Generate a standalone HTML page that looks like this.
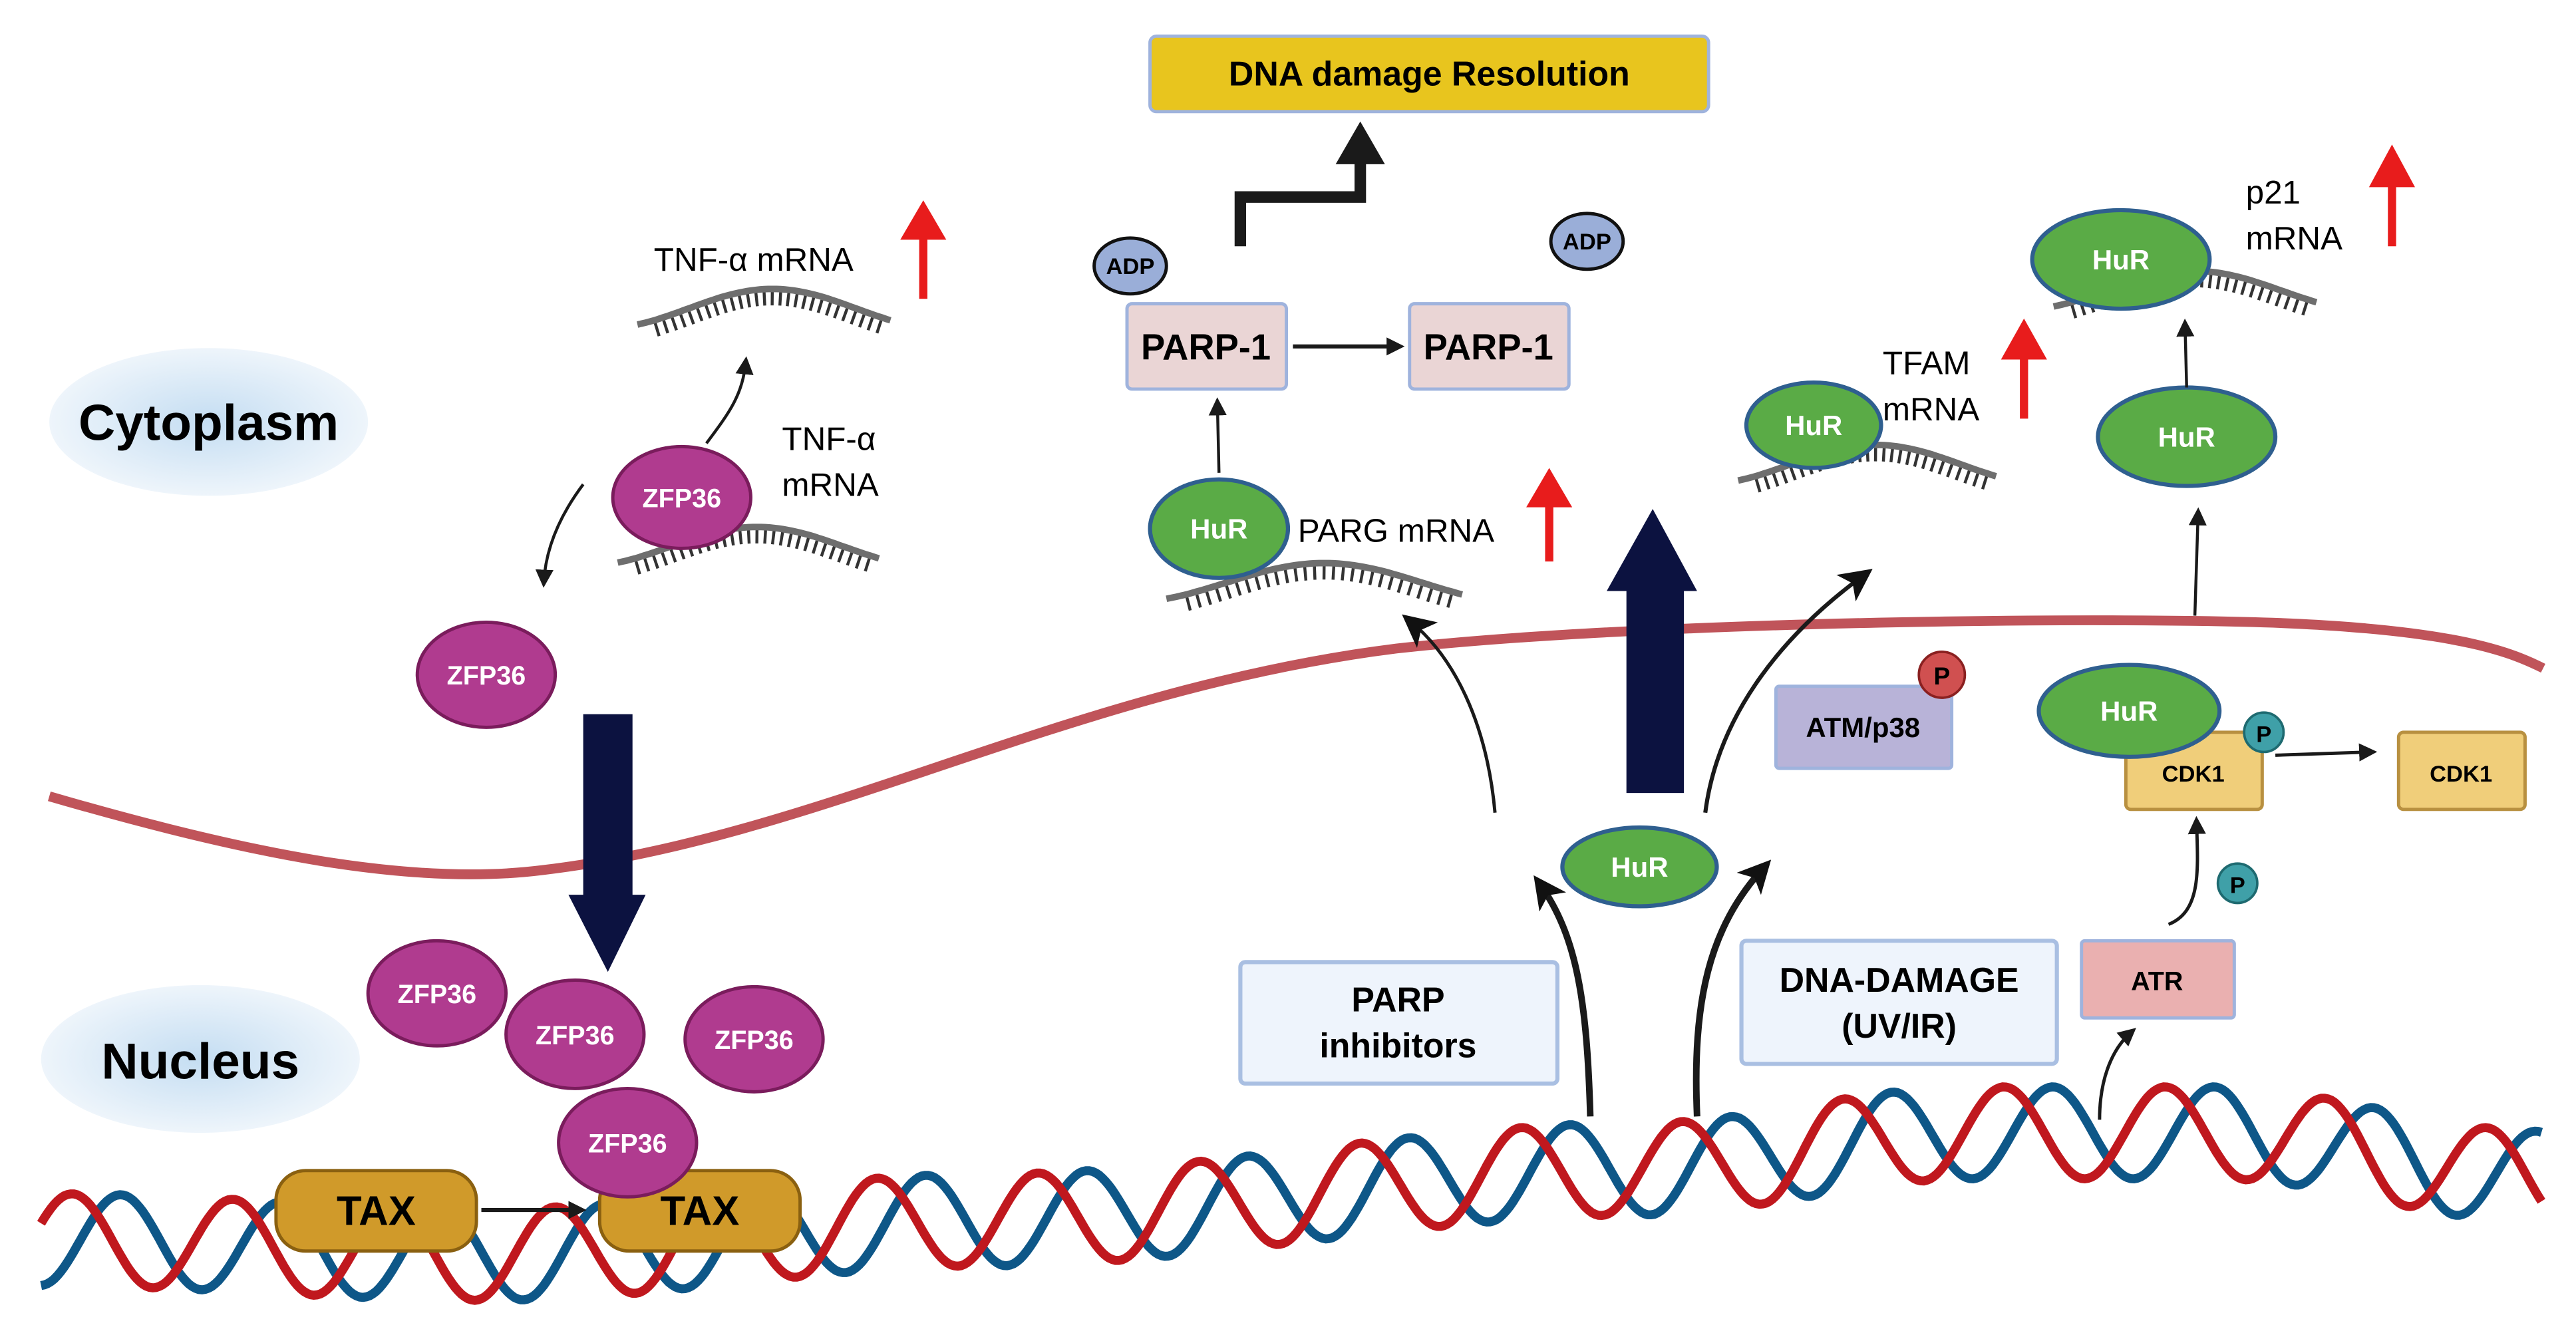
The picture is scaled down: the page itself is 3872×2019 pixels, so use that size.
<!DOCTYPE html>
<html><head><meta charset="utf-8"><style>
html,body{margin:0;padding:0;background:#fff;}
svg{display:block;}
text{font-family:"Liberation Sans",sans-serif;}
</style></head><body>
<svg id="s" width="3872" height="2019" viewBox="0 0 1568 818" preserveAspectRatio="none" xmlns="http://www.w3.org/2000/svg">
<defs>
<radialGradient id="bg" cx="50%" cy="50%" r="50%"><stop offset="0" stop-color="#c4ddf2"/><stop offset="1" stop-color="#eef5fb"/></radialGradient>
<marker id="ah" markerWidth="11" markerHeight="11" refX="8" refY="5.5" orient="auto" markerUnits="userSpaceOnUse"><path d="M0,0 L11,5.5 L0,11 Z" fill="#1a1a1a"/></marker>
<marker id="ahb" markerWidth="20" markerHeight="20" refX="14" refY="10" orient="auto" markerUnits="userSpaceOnUse"><path d="M0,0 L20,10 L0,20 L5,10 Z" fill="#111"/></marker>
</defs>
<g id="dna"></g>
<path d="M30,485 C150,520 250,540 330,530 C500,510 650,420 850,395 C1000,378 1300,375 1400,380 C1500,385 1530,398 1548,407" fill="none" stroke="#c0545a" stroke-width="6"/>
<g id="strands"></g>
<ellipse cx="127" cy="257" rx="97" ry="45" fill="url(#bg)"/>
<text x="127" y="268" font-size="31" font-weight="bold" text-anchor="middle">Cytoplasm</text>
<ellipse cx="122" cy="645" rx="97" ry="45" fill="url(#bg)"/>
<text x="122" y="657" font-size="31" font-weight="bold" text-anchor="middle">Nucleus</text>
<rect x="700" y="22" width="340" height="46" rx="4" fill="#e8c51e" stroke="#9fb3dd" stroke-width="2"/>
<text x="870" y="52" font-size="21" font-weight="bold" text-anchor="middle">DNA damage Resolution</text>
<path d="M755,150 V120 H828 V98" fill="none" stroke="#1a1a1a" stroke-width="7"/>
<path d="M813,100 L828,74 L843,100 Z" fill="#1a1a1a"/>
<ellipse cx="688" cy="162" rx="22" ry="17" fill="#9aaed8" stroke="#111" stroke-width="2"/>
<text x="688" y="167" font-size="14" font-weight="bold" text-anchor="middle">ADP</text>
<ellipse cx="966" cy="147" rx="22" ry="17" fill="#9aaed8" stroke="#111" stroke-width="2"/>
<text x="966" y="152" font-size="14" font-weight="bold" text-anchor="middle">ADP</text>
<rect x="686" y="185" width="97" height="52" rx="3" fill="#ead5d5" stroke="#9fb3dd" stroke-width="2"/>
<text x="734" y="219" font-size="22" font-weight="bold" text-anchor="middle">PARP-1</text>
<rect x="858" y="185" width="97" height="52" rx="3" fill="#ead5d5" stroke="#9fb3dd" stroke-width="2"/>
<text x="906" y="219" font-size="22" font-weight="bold" text-anchor="middle">PARP-1</text>
<line x1="787" y1="211" x2="852" y2="211" stroke="#1a1a1a" stroke-width="2.5" marker-end="url(#ah)"/>
<line x1="742" y1="288" x2="741" y2="245" stroke="#1a1a1a" stroke-width="1.8" marker-end="url(#ah)"/>
<text x="790" y="330" font-size="20">PARG mRNA</text>
<text x="398" y="165" font-size="20">TNF-α mRNA</text>
<text x="476" y="274" font-size="20">TNF-α</text>
<text x="476" y="302" font-size="20">mRNA</text>
<path d="M430,270 C445,250 452,240 454,220" fill="none" stroke="#1a1a1a" stroke-width="1.8" marker-end="url(#ah)"/>
<path d="M355,295 C340,315 332,335 331,355" fill="none" stroke="#1a1a1a" stroke-width="1.8" marker-end="url(#ah)"/>
<text x="1146" y="228" font-size="20">TFAM</text>
<text x="1146" y="256" font-size="20">mRNA</text>
<text x="1367" y="124" font-size="20">p21</text>
<text x="1367" y="152" font-size="20">mRNA</text>
<g fill="#e81c1c" stroke="#e81c1c">
<line x1="562" y1="182" x2="562" y2="140" stroke-width="5"/><path d="M548,146 L562,122 L576,146 Z" stroke="none"/>
<line x1="943" y1="342" x2="943" y2="303" stroke-width="5"/><path d="M929,309 L943,285 L957,309 Z" stroke="none"/>
<line x1="1232" y1="255" x2="1232" y2="213" stroke-width="5"/><path d="M1218,219 L1232,194 L1246,219 Z" stroke="none"/>
<line x1="1456" y1="150" x2="1456" y2="108" stroke-width="5"/><path d="M1442,114 L1456,88 L1470,114 Z" stroke="none"/>
</g>
<rect x="355" y="435" width="30" height="112" fill="#0c1240"/>
<path d="M346,545 L393,545 L370,592 Z" fill="#0c1240"/>
<rect x="990" y="358" width="35" height="125" fill="#0c1240"/>
<path d="M978,360 L1033,360 L1006,310 Z" fill="#0c1240"/>
<g stroke="#2f5f8f" stroke-width="2.5" fill="#5aab46">
<ellipse cx="742" cy="322" rx="42" ry="30"/>
<ellipse cx="1104" cy="259" rx="41" ry="26"/>
<ellipse cx="1331" cy="266" rx="54" ry="30"/>
<ellipse cx="1291" cy="158" rx="54" ry="30"/>
<ellipse cx="998" cy="528" rx="47" ry="24"/>
</g>
<rect x="1081" y="418" width="107" height="50" rx="2" fill="#b8b3d8" stroke="#9fb3dd" stroke-width="2"/>
<text x="1134" y="449" font-size="17" font-weight="bold" text-anchor="middle">ATM/p38</text>
<circle cx="1182" cy="411" r="14" fill="#d05050" stroke="#8a2020" stroke-width="1.5"/>
<text x="1182" y="417" font-size="15" font-weight="bold" text-anchor="middle">P</text>
<rect x="1294" y="446" width="83" height="47" rx="3" fill="#f0ce7a" stroke="#b89040" stroke-width="2"/>
<text x="1335" y="476" font-size="14" font-weight="bold" text-anchor="middle">CDK1</text>
<ellipse cx="1296" cy="433" rx="55" ry="28" fill="#5aab46" stroke="#2f5f8f" stroke-width="2.5"/>
<rect x="1460" y="446" width="77" height="47" rx="3" fill="#f0ce7a" stroke="#b89040" stroke-width="2"/>
<text x="1498" y="476" font-size="14" font-weight="bold" text-anchor="middle">CDK1</text>
<line x1="1385" y1="460" x2="1444" y2="458" stroke="#1a1a1a" stroke-width="2" marker-end="url(#ah)"/>
<circle cx="1378" cy="446" r="12" fill="#3fa0a8" stroke="#1e6a70" stroke-width="1.5"/>
<text x="1378" y="452" font-size="14" font-weight="bold" text-anchor="middle">P</text>
<circle cx="1362" cy="538" r="12" fill="#3fa0a8" stroke="#1e6a70" stroke-width="1.5"/>
<text x="1362" y="544" font-size="14" font-weight="bold" text-anchor="middle">P</text>
<rect x="1267" y="573" width="93" height="47" rx="2" fill="#eab0b0" stroke="#9fb3dd" stroke-width="2"/>
<text x="1313" y="603" font-size="16" font-weight="bold" text-anchor="middle">ATR</text>
<path d="M1320,563 C1340,555 1338,530 1337,500" fill="none" stroke="#1a1a1a" stroke-width="2" marker-end="url(#ah)"/>
<path d="M1278,682 C1278,660 1284,640 1298,628" fill="none" stroke="#1a1a1a" stroke-width="2" marker-end="url(#ah)"/>
<rect x="1060" y="573" width="192" height="75" rx="3" fill="#eef4fc" stroke="#a9bfe2" stroke-width="2.5"/>
<text x="1156" y="604" font-size="21" font-weight="bold" text-anchor="middle">DNA-DAMAGE</text>
<text x="1156" y="632" font-size="21" font-weight="bold" text-anchor="middle">(UV/IR)</text>
<rect x="755" y="586" width="193" height="74" rx="3" fill="#eef4fc" stroke="#a9bfe2" stroke-width="2.5"/>
<text x="851" y="616" font-size="21" font-weight="bold" text-anchor="middle">PARP</text>
<text x="851" y="644" font-size="21" font-weight="bold" text-anchor="middle">inhibitors</text>
<path d="M968,680 C966,610 960,570 937,538" fill="none" stroke="#1a1a1a" stroke-width="4" marker-end="url(#ahb)"/>
<path d="M1033,680 C1030,610 1040,565 1074,528" fill="none" stroke="#1a1a1a" stroke-width="4" marker-end="url(#ahb)"/>
<path d="M910,495 C905,440 885,400 858,378" fill="none" stroke="#1a1a1a" stroke-width="2" marker-end="url(#ahb)"/>
<path d="M1038,495 C1045,440 1080,390 1135,350" fill="none" stroke="#1a1a1a" stroke-width="2.5" marker-end="url(#ahb)"/>
<line x1="1336" y1="375" x2="1338" y2="312" stroke="#1a1a1a" stroke-width="1.8" marker-end="url(#ah)"/>
<line x1="1331" y1="236" x2="1330" y2="197" stroke="#1a1a1a" stroke-width="1.8" marker-end="url(#ah)"/>
<g fill="#b03b8f" stroke="#7a1c5c" stroke-width="2">
<ellipse cx="415" cy="303" rx="42" ry="31"/>
<ellipse cx="296" cy="411" rx="42" ry="32"/>
<ellipse cx="266" cy="605" rx="42" ry="32"/>
<ellipse cx="350" cy="630" rx="42" ry="33"/>
<ellipse cx="459" cy="633" rx="42" ry="32"/>
</g>
<rect x="168" y="713" width="122" height="49" rx="18" fill="#d09a2a" stroke="#8a6010" stroke-width="2"/>
<text x="229" y="746" font-size="25" font-weight="bold" text-anchor="middle">TAX</text>
<rect x="365" y="713" width="122" height="49" rx="18" fill="#d09a2a" stroke="#8a6010" stroke-width="2"/>
<text x="426" y="746" font-size="25" font-weight="bold" text-anchor="middle">TAX</text>
<line x1="293" y1="737" x2="354" y2="737" stroke="#1a1a1a" stroke-width="2.5" marker-end="url(#ah)"/>
<ellipse cx="382" cy="696" rx="42" ry="33" fill="#b03b8f" stroke="#7a1c5c" stroke-width="2"/>
<g font-size="17" font-weight="bold" fill="#fff" text-anchor="middle">
<text x="742" y="328">HuR</text>
<text x="1104" y="265">HuR</text>
<text x="1331" y="272">HuR</text>
<text x="1291" y="164">HuR</text>
<text x="998" y="534">HuR</text>
<text x="1296" y="439">HuR</text>
</g>
<g font-size="16" font-weight="bold" fill="#fff" text-anchor="middle">
<text x="415" y="309">ZFP36</text>
<text x="296" y="417">ZFP36</text>
<text x="266" y="611">ZFP36</text>
<text x="350" y="636">ZFP36</text>
<text x="459" y="639">ZFP36</text>
<text x="382" y="702">ZFP36</text>
</g>
</svg>
<script>
(function(){
var NS="http://www.w3.org/2000/svg";
function el(p,t,a){var e=document.createElementNS(NS,t);for(var k in a)e.setAttribute(k,a[k]);p.appendChild(e);return e;}
var pts=[[25,755],[300,764],[600,743],[1000,712],[1200,690],[1350,690],[1548,717]];
function cen(x){for(var i=0;i<pts.length-1;i++){var a=pts[i],b=pts[i+1];if(x<=b[0]){var t=(x-a[0])/(b[0]-a[0]);t=t*t*(3-2*t);return a[1]+(b[1]-a[1])*t;}}return pts[pts.length-1][1];}
var g=document.getElementById("dna");
function helix(ph,col){var d="";for(var x=25;x<=1548;x+=2){var y=cen(x)+28*Math.sin(2*Math.PI*(x/98)+ph);d+=(x==25?"M":"L")+x+","+y.toFixed(1);}el(g,"path",{d:d,fill:"none",stroke:col,"stroke-width":5.5});}
helix(0,"#0e5788");helix(1.9,"#c0181e");
var sg=document.getElementById("strands");
function strand(x0,y0,x1,a){var d="",ticks="";var n=60;for(var i=0;i<=n;i++){var t=i/n;var x=x0+(x1-x0)*t;var y=y0-a*Math.sin(2*Math.PI*(0.75*t-0.15));d+=(i?"L":"M")+x.toFixed(1)+","+y.toFixed(1);
if(i>2&&i<n-1&&i%2==0){var t2=(i+0.5)/n;var x2=x0+(x1-x0)*t2;var y2=y0-a*Math.sin(2*Math.PI*(0.75*t2-0.15));var dx=x2-x,dy=y2-y,l=Math.hypot(dx,dy);var nx=-dy/l,ny=dx/l;ticks+="M"+x.toFixed(1)+","+y.toFixed(1)+"l"+(nx*10).toFixed(1)+","+(ny*10).toFixed(1);}}
el(sg,"path",{d:ticks,stroke:"#333","stroke-width":1.8,fill:"none"});
el(sg,"path",{d:d,stroke:"#6e6e6e","stroke-width":4,fill:"none"});}
strand(388,188,542,12);
strand(376,333,535,12);
strand(710,355,890,12);
strand(1058,283,1215,12);
strand(1250,177,1410,12);
})();
</script>
</body></html>
